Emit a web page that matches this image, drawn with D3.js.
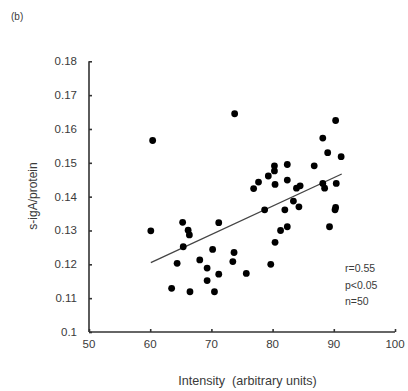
<!DOCTYPE html>
<html>
<head>
<meta charset="utf-8">
<script src="https://cdn.jsdelivr.net/npm/d3@7"></script>
<style>
  body { margin: 0; background: #fff; }
  text { font-family: "Liberation Sans", Arial, sans-serif; fill: #3a3a3a; }
</style>
</head>
<body>
<script>
// intensity (x) and s-igA/protein (y)
const intensity = [
  60.1, 60.4, 63.5, 64.4, 65.3, 65.4, 66.2, 66.4, 66.5, 68.1,
  69.3, 69.3, 70.2, 70.5, 71.2, 71.2, 73.5, 73.7, 73.8, 75.7,
  76.9, 77.7, 78.7, 79.3, 79.7, 80.3, 80.3, 80.4, 80.4, 81.3,
  82.0, 82.4, 82.4, 82.4, 83.4, 83.9, 84.3, 84.5, 86.8, 88.2,
  88.2, 88.5, 89.0, 89.3, 90.3, 90.4, 90.3, 90.2, 91.2
];
const sigA = [
  0.1299, 0.1566, 0.1129, 0.1203, 0.1324, 0.1252, 0.1301, 0.1287, 0.1119, 0.1213,
  0.1189, 0.1152, 0.1244, 0.1119, 0.1323, 0.1171, 0.1208, 0.1235, 0.1645, 0.1173,
  0.1424, 0.1443, 0.1361, 0.1461, 0.1200, 0.1491, 0.1476, 0.1436, 0.1265, 0.1300,
  0.1361, 0.1495, 0.1449, 0.1311, 0.1387, 0.1425, 0.1370, 0.1432, 0.1491, 0.1573,
  0.1439, 0.1425, 0.1530, 0.1311, 0.1625, 0.1439, 0.1368, 0.1361, 0.1518
];
const trendX = [60.1, 91.3];
const trendY = [0.1205, 0.1467];
const xTicks = [50, 60, 70, 80, 90, 100];
const yTicks = [0.1, 0.11, 0.12, 0.13, 0.14, 0.15, 0.16, 0.17, 0.18];
const stats = ['r=0.55', 'p<0.05', 'n=50'];

const main = () => {
  const width = 408;
  const height = 391;

  const x = d3.scaleLinear().domain([50, 100]).range([89, 395]);
  const y = d3.scaleLinear().domain([0.1, 0.18]).range([332, 61.3]);

  const svg = d3.select('body').append('svg')
    .attr('width', width).attr('height', height);

  svg.append('text')
    .attr('x', 11).attr('y', 20)
    .style('font-size', '10px')
    .text('(b)');

  // y axis, ticks pointing inward
  const yAxis = svg.append('g')
    .attr('transform', `translate(${x(50)},0)`)
    .call(d3.axisRight(y).tickValues(yTicks).tickSize(3).tickFormat(''));
  yAxis.select('.domain').attr('d', `M0,${y(0.18)}H0V${y(0.1)}`);

  const xAxis = svg.append('g')
    .attr('transform', `translate(0,${y(0.1)})`)
    .call(d3.axisTop(x).tickValues(xTicks).tickSize(3).tickFormat(''));
  xAxis.select('.domain').attr('d', `M${x(50)},0H${x(100)}`);

  svg.selectAll('.domain, .tick line')
    .attr('stroke', '#333').attr('stroke-width', 1.6);

  svg.selectAll('.ylab').data(yTicks).join('text')
    .attr('class', 'ylab')
    .attr('x', 77).attr('y', (d) => y(d) + 4)
    .attr('text-anchor', 'end')
    .style('font-size', '11.5px')
    .text((d) => d3.format('.2~f')(d));

  svg.selectAll('.xlab').data(xTicks).join('text')
    .attr('class', 'xlab')
    .attr('x', (d) => x(d)).attr('y', 348)
    .attr('text-anchor', 'middle')
    .style('font-size', '11.5px')
    .text((d) => d);

  svg.append('text')
    .attr('x', 247.5).attr('y', 385)
    .attr('text-anchor', 'middle')
    .style('font-size', '12.6px')
    .attr('xml:space', 'preserve')
    .text('Intensity  (arbitrary units)');

  svg.append('text')
    .attr('transform', 'translate(37,196) rotate(-90)')
    .attr('text-anchor', 'middle')
    .style('font-size', '12px')
    .text('s-igA/protein');

  svg.append('line')
    .attr('x1', x(trendX[0])).attr('y1', y(trendY[0]))
    .attr('x2', x(trendX[1])).attr('y2', y(trendY[1]))
    .attr('stroke', '#444').attr('stroke-width', 1.3);

  svg.selectAll('circle').data(intensity).join('circle')
    .attr('cx', (d) => x(d))
    .attr('cy', (d, i) => y(sigA[i]))
    .attr('r', 3.4)
    .attr('fill', '#000');

  svg.selectAll('.stat').data(stats).join('text')
    .attr('class', 'stat')
    .attr('x', 345).attr('y', (d, i) => 272 + i * 16.5)
    .style('font-size', '10.5px')
    .text((d) => d);
};

main();
</script>
</body>
</html>
